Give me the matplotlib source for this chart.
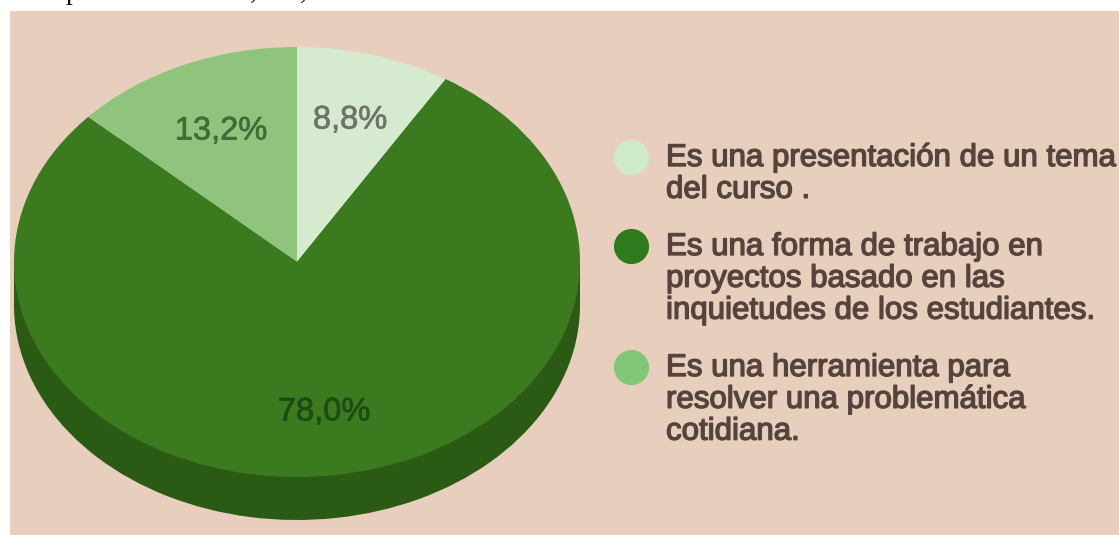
import matplotlib

matplotlib.use("Agg")
import matplotlib.patheffects as pe
import matplotlib.pyplot as plt
from matplotlib.patches import Rectangle

# Chart data
values = [8.8, 78.0, 13.2]
value_labels = ["8,8%", "78,0%", "13,2%"]
legend_labels = [
    "Es una presentación de un tema\ndel curso .",
    "Es una forma de trabajo en\nproyectos basado en las\ninquietudes de los estudiantes.",
    "Es una herramienta para\nresolver una problemática\ncotidiana.",
]

# Styles and layout (pixels, origin top-left)
W, H = 1119, 535
top_colors = ["#d6eacf", "#3b7a1f", "#90c47c"]
side_colors = ["#2b5a14", "#2b5a14", "#2b5a14"]
legend_colors = ["#cfeacb", "#2f7a1c", "#82c775"]
text_colors = ["#6d7468", "#1f4a14", "#3c6e38"]
BG = "#e8cfbd"
CX, CY, RX, RY, DEPTH = 297, 262, 283, 215, 43
label_xy = [(350, 120), (324, 412), (221, 131)]
legend_dot_y = [157, 246, 367]
legend_text_y = [143, 232, 353]

fig = plt.figure(figsize=(W / 100, H / 100), dpi=100, facecolor="white")
plt.rcParams["font.family"] = ["Liberation Sans", "DejaVu Sans"]


def pie_axes(offset):
    # axes box is the bounding box of the ellipse, shifted down by offset
    ax = fig.add_axes([(CX - RX) / W, 1 - (CY + RY + offset) / H, 2 * RX / W, 2 * RY / H])
    ax.set_zorder(2 if offset == 0 else 1)
    return ax


# Background panel in pixel coordinates
bg = fig.add_axes([0, 0, 1, 1], zorder=0)
bg.set_xlim(0, W)
bg.set_ylim(H, 0)
bg.axis("off")
bg.add_patch(Rectangle((10, 11), W - 10, H - 11, color=BG, lw=0))
# Bottom of the document line that the crop cuts off
for x, g in [(73, "p"), (253, ","), (303, ",")]:
    bg.text(x, -1, g, family="Liberation Serif", fontsize=20, color="#111111",
            ha="center", va="baseline", clip_on=False)

# Side wall of the 3D pie
side = pie_axes(DEPTH)
side.pie(values, colors=side_colors, startangle=90, counterclock=False)
side.add_patch(Rectangle((-1, 0), 2, 2 * DEPTH / (2 * RY), color=side_colors[0], lw=0))
side.set_aspect("auto")
side.set_xlim(-1, 1)
side.set_ylim(-1, 1)

# Top face
top = pie_axes(0)
top.pie(values, colors=top_colors, startangle=90, counterclock=False)
top.set_aspect("auto")
top.set_xlim(-1, 1)
top.set_ylim(-1, 1)

# Text goes on its own layer above the pie
front = fig.add_axes([0, 0, 1, 1], zorder=3)
front.set_xlim(0, W)
front.set_ylim(H, 0)
front.axis("off")

for label, (x, y), c in zip(value_labels, label_xy, text_colors):
    front.text(x, y, label, fontsize=23.5, color=c, ha="center", va="center",
               path_effects=[pe.withStroke(linewidth=0.5, foreground=c)])

for label, dot_y, text_y, c in zip(legend_labels, legend_dot_y, legend_text_y, legend_colors):
    front.scatter([631], [dot_y], s=640, color=c, lw=0)
    front.text(666, text_y, label, fontsize=22.5, color="#54443d", ha="left", va="top",
               linespacing=1.08,
               path_effects=[pe.withStroke(linewidth=1.0, foreground="#54443d")])

fig.savefig("out.png", dpi=100)
